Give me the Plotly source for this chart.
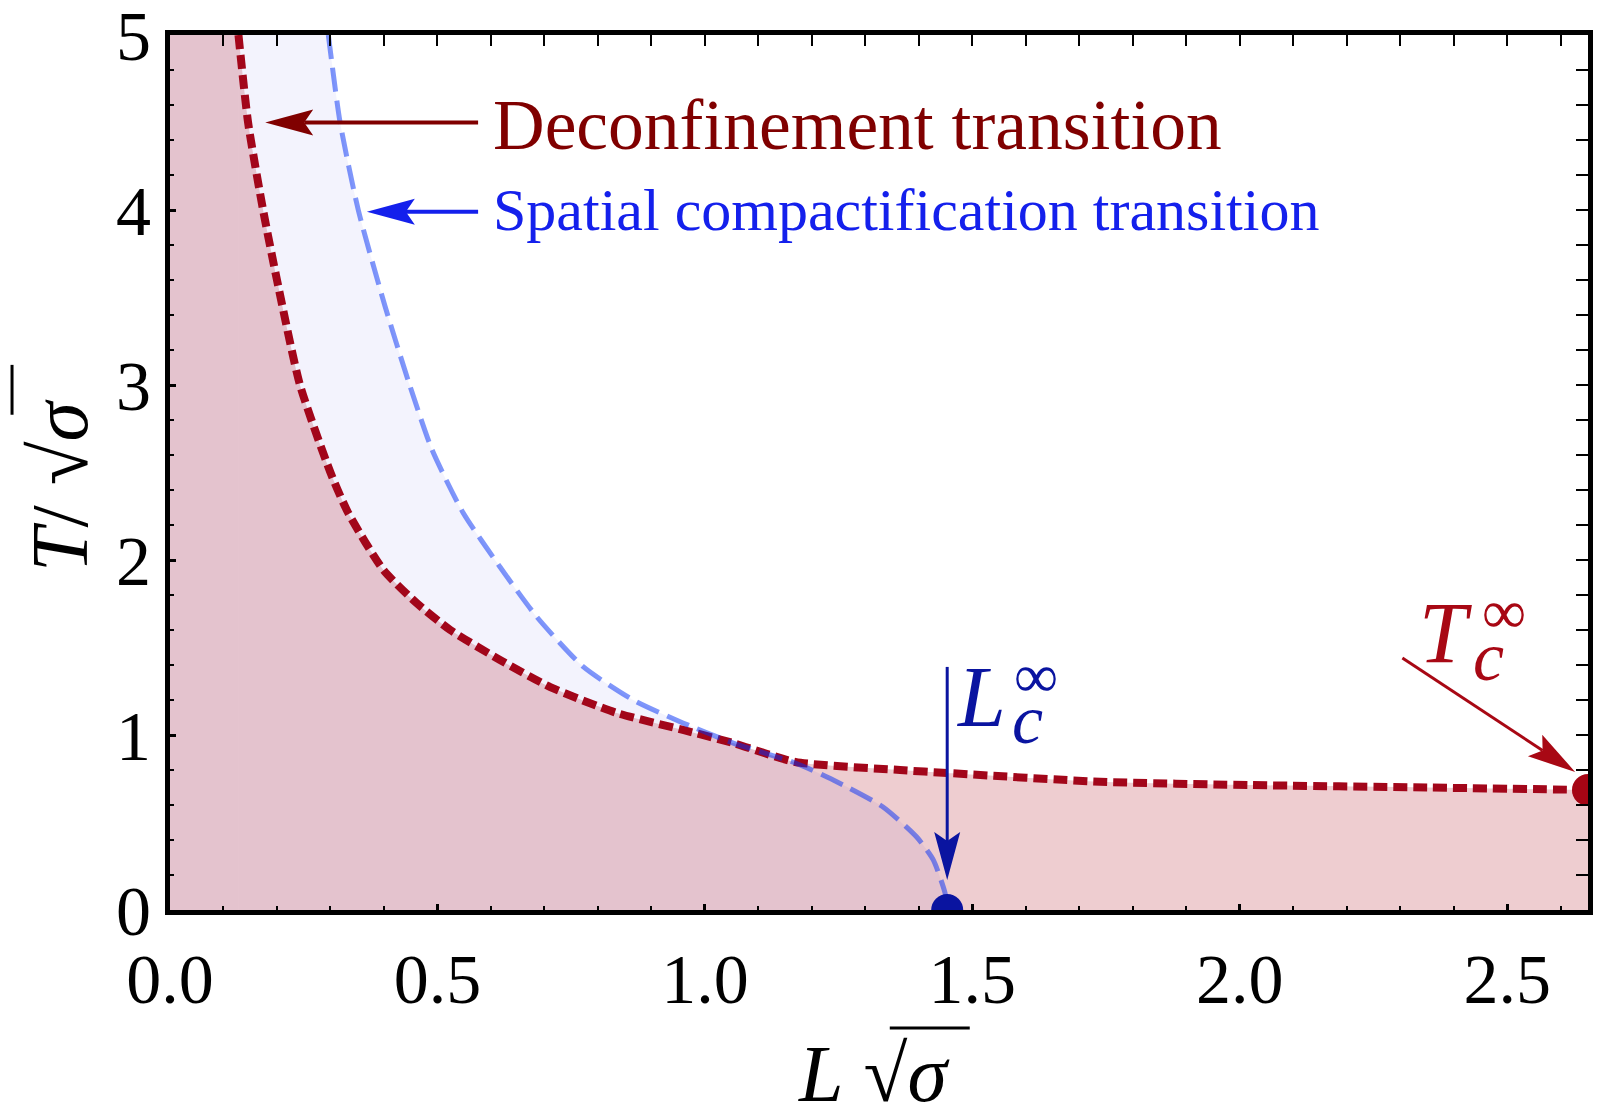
import plotly.graph_objects as go

# values: L*sqrt(sigma) -> T/sqrt(sigma)
deconf_L = [0.128, 0.146, 0.174, 0.200, 0.243, 0.300, 0.333, 0.399, 0.461, 0.524,
            0.617, 0.711, 0.835, 0.959, 1.053, 1.169, 1.365, 1.453, 1.739, 2.020,
            2.350, 2.651]
deconf_T = [5.000, 4.500, 4.000, 3.600, 3.000, 2.500, 2.270, 1.943, 1.754, 1.600,
            1.429, 1.274, 1.126, 1.029, 0.954, 0.846, 0.800, 0.783, 0.733, 0.714,
            0.700, 0.686]

spatial_L = [0.296, 0.318, 0.352, 0.402, 0.448, 0.490, 0.548, 0.617, 0.686, 0.773,
             0.866, 0.959, 1.053, 1.169, 1.240, 1.333, 1.396, 1.427, 1.449, 1.453]
spatial_T = [5.000, 4.500, 4.000, 3.450, 3.000, 2.629, 2.270, 1.960, 1.674, 1.389,
             1.200, 1.069, 0.954, 0.840, 0.743, 0.589, 0.417, 0.286, 0.097, 0.000]

L_c_inf = 1.453
T_c_inf = 0.686

L_MAX = 2.651
T_MAX = 5.0

x_tick_vals = [0.0, 0.5, 1.0, 1.5, 2.0, 2.5]
x_tick_text = ["0.0", "0.5", "1.0", "1.5", "2.0", "2.5"]
y_tick_vals = [0, 1, 2, 3, 4, 5]
y_tick_text = ["0", "1", "2", "3", "4", "5"]

# colours
RED_LINE = "rgb(162,6,26)"
RED_FILL = "rgba(170,5,20,0.2)"
BLUE_LINE = "rgba(0,45,245,0.5)"
BLUE_FILL = "rgba(120,120,230,0.09)"
DECONF_COL = "rgb(128,0,0)"
SPATIAL_COL = "rgb(20,32,236)"
LC_COL = "rgb(10,20,160)"
TC_COL = "rgb(168,8,20)"

FONT = "Liberation Serif"
W, H = 1602, 1119
ML, MR, MT, MB = 170, 14, 35, 209
PLOT_W = W - ML - MR
PLOT_H = H - MT - MB
SX = PLOT_W / L_MAX
SY = PLOT_H / T_MAX


def arrow(tail, tip, color, width, head_len=48, head_half=13, notch=9):
    # mathematica style arrow: thin shaft + barbed head, built in pixel space
    tx, ty = tip[0] * SX, tip[1] * SY
    bx, by = tail[0] * SX, tail[1] * SY
    dx, dy = tx - bx, ty - by
    d = (dx * dx + dy * dy) ** 0.5
    ux, uy = dx / d, dy / d
    nx, ny = -uy, ux
    back = (tx - ux * head_len, ty - uy * head_len)
    left = (back[0] + nx * head_half, back[1] + ny * head_half)
    right = (back[0] - nx * head_half, back[1] - ny * head_half)
    inner = (tx - ux * (head_len - notch), ty - uy * (head_len - notch))
    pts = [(p[0] / SX, p[1] / SY) for p in [(tx, ty), left, inner, right]]
    path = "M" + " L".join(f"{x:.5f},{y:.5f}" for x, y in pts) + " Z"
    return [
        dict(type="line", xref="x", yref="y", x0=tail[0], y0=tail[1],
             x1=pts[2][0], y1=pts[2][1], line=dict(color=color, width=width)),
        dict(type="path", xref="x", yref="y", path=path, fillcolor=color,
             line=dict(color=color, width=0)),
    ]


fig = go.Figure()

# filled regions (cap traces close the area up to the top of the frame)
fig.add_trace(go.Scatter(x=[0, spatial_L[0]], y=[T_MAX, T_MAX], mode="none",
                         fill="tozeroy", fillcolor=BLUE_FILL, hoverinfo="skip"))
fig.add_trace(go.Scatter(x=spatial_L, y=spatial_T, mode="none", fill="tozeroy",
                         fillcolor=BLUE_FILL, line=dict(shape="spline", smoothing=0.6),
                         hoverinfo="skip"))
fig.add_trace(go.Scatter(x=[0, deconf_L[0]], y=[T_MAX, T_MAX], mode="none",
                         fill="tozeroy", fillcolor=RED_FILL, hoverinfo="skip"))
fig.add_trace(go.Scatter(x=deconf_L, y=deconf_T, mode="none", fill="tozeroy",
                         fillcolor=RED_FILL, line=dict(shape="spline", smoothing=0.6),
                         hoverinfo="skip"))

# transition lines
fig.add_trace(go.Scatter(x=deconf_L, y=deconf_T, mode="lines",
                         line=dict(color=RED_LINE, width=8, dash="14px,6px",
                                   shape="spline", smoothing=0.6)))
fig.add_trace(go.Scatter(x=spatial_L, y=spatial_T, mode="lines",
                         line=dict(color=BLUE_LINE, width=5, dash="24px,9px",
                                   shape="spline", smoothing=0.6)))

# end points
fig.add_trace(go.Scatter(x=[L_MAX], y=[T_c_inf], mode="markers",
                         marker=dict(color="rgb(165,5,20)", size=32)))
fig.add_trace(go.Scatter(x=[L_c_inf], y=[0], mode="markers",
                         marker=dict(color=LC_COL, size=32)))

# empty trace so the mirrored frame axes (top / right) get drawn
fig.add_trace(go.Scatter(x=[], y=[], xaxis="x2", yaxis="y2", hoverinfo="skip"))

shapes = []
shapes += arrow((0.576, 4.50), (0.178, 4.50), DECONF_COL, 4)
shapes += arrow((0.576, 3.99), (0.368, 3.99), SPATIAL_COL, 4)
shapes += arrow((L_c_inf, 1.389), (L_c_inf, 0.171), LC_COL, 3)
shapes += arrow((2.304, 1.440), (2.627, 0.789), TC_COL, 3)

# overbars of the square roots in the axis titles
shapes.append(dict(type="line", xref="paper", yref="paper", x0=0.5076, x1=0.564,
                   y0=-0.1348, y1=-0.1348, line=dict(color="black", width=3)))
shapes.append(dict(type="line", xref="paper", yref="paper", x0=-0.1114, x1=-0.1114,
                   y0=0.566, y1=0.623, line=dict(color="black", width=3)))

ann = [
    dict(x=0.600, y=4.49, text="Deconfinement transition", font=dict(size=71.5, color=DECONF_COL)),
    dict(x=0.600, y=4.00, text="Spatial compactification transition", font=dict(size=60, color=SPATIAL_COL)),
    dict(x=1.466, y=1.217, text="<i>L</i>", font=dict(size=86, color=LC_COL)),
    dict(x=1.574, y=1.337, text="∞", font=dict(size=62, color=LC_COL)),
    dict(x=1.570, y=1.090, text="<i>c</i>", font=dict(size=70, color=LC_COL)),
    dict(x=2.331, y=1.583, text="<i>T</i>", font=dict(size=86, color=TC_COL)),
    dict(x=2.450, y=1.703, text="∞", font=dict(size=62, color=TC_COL)),
    dict(x=2.432, y=1.450, text="<i>c</i>", font=dict(size=70, color=TC_COL)),
]
for a in ann:
    a.update(xref="x", yref="y", xanchor="left", yanchor="middle", showarrow=False)
    a["font"]["family"] = FONT

# axis titles
ann.append(dict(xref="paper", yref="paper", x=0.496, y=-0.1874, text="<i>L</i> √<i>σ</i>",
                showarrow=False, xanchor="center", yanchor="middle",
                font=dict(family=FONT, size=80, color="black")))
ann.append(dict(xref="paper", yref="paper", x=-0.078, y=0.485, text="<i>T</i>/ √<i>σ</i>",
                showarrow=False, xanchor="center", yanchor="middle", textangle=-90,
                font=dict(family=FONT, size=80, color="black")))

tick_font = dict(family=FONT, size=70, color="black")

fig.update_layout(
    width=W, height=H,
    margin=dict(l=ML, r=MR, t=MT, b=MB, autoexpand=False),
    paper_bgcolor="white", plot_bgcolor="white",
    showlegend=False,
    shapes=shapes,
    annotations=ann,
    xaxis=dict(range=[0, L_MAX], showline=True, linewidth=5, linecolor="black",
               showgrid=False, zeroline=False, ticks="inside", ticklen=6,
               tickwidth=2.5, tickcolor="black", tickvals=x_tick_vals,
               ticktext=x_tick_text, tickfont=tick_font, ticklabelstandoff=4,
               ticklabeloverflow="allow", automargin=False,
               minor=dict(dtick=0.1, tick0=0, ticks="inside", ticklen=4,
                          tickwidth=2, tickcolor="black")),
    yaxis=dict(range=[0, T_MAX], showline=True, linewidth=5, linecolor="black",
               showgrid=False, zeroline=False, ticks="inside", ticklen=6,
               tickwidth=2.5, tickcolor="black", tickvals=y_tick_vals,
               ticktext=y_tick_text, tickfont=tick_font, ticklabelstandoff=0,
               ticklabeloverflow="allow", automargin=False,
               minor=dict(dtick=0.2, tick0=0, ticks="inside", ticklen=4,
                          tickwidth=2, tickcolor="black")),
    xaxis2=dict(range=[0, L_MAX], overlaying="x", side="top", anchor="y2",
                showline=True, linewidth=5, linecolor="black", showgrid=False,
                zeroline=False, ticks="inside", ticklen=11, tickwidth=2,
                tickcolor="black", tickvals=x_tick_vals, showticklabels=False,
                automargin=False,
                minor=dict(dtick=0.1, tick0=0, ticks="inside", ticklen=11,
                           tickwidth=2, tickcolor="black")),
    yaxis2=dict(range=[0, T_MAX], overlaying="y", side="right", anchor="x2",
                showline=True, linewidth=5, linecolor="black", showgrid=False,
                zeroline=False, ticks="inside", ticklen=12, tickwidth=2,
                tickcolor="black", tickvals=y_tick_vals, showticklabels=False,
                automargin=False,
                minor=dict(dtick=0.2, tick0=0, ticks="inside", ticklen=12,
                           tickwidth=2, tickcolor="black")),
)

fig.write_html("out.html", config={"displayModeBar": False},
               post_script="document.body.style.margin='0';")
